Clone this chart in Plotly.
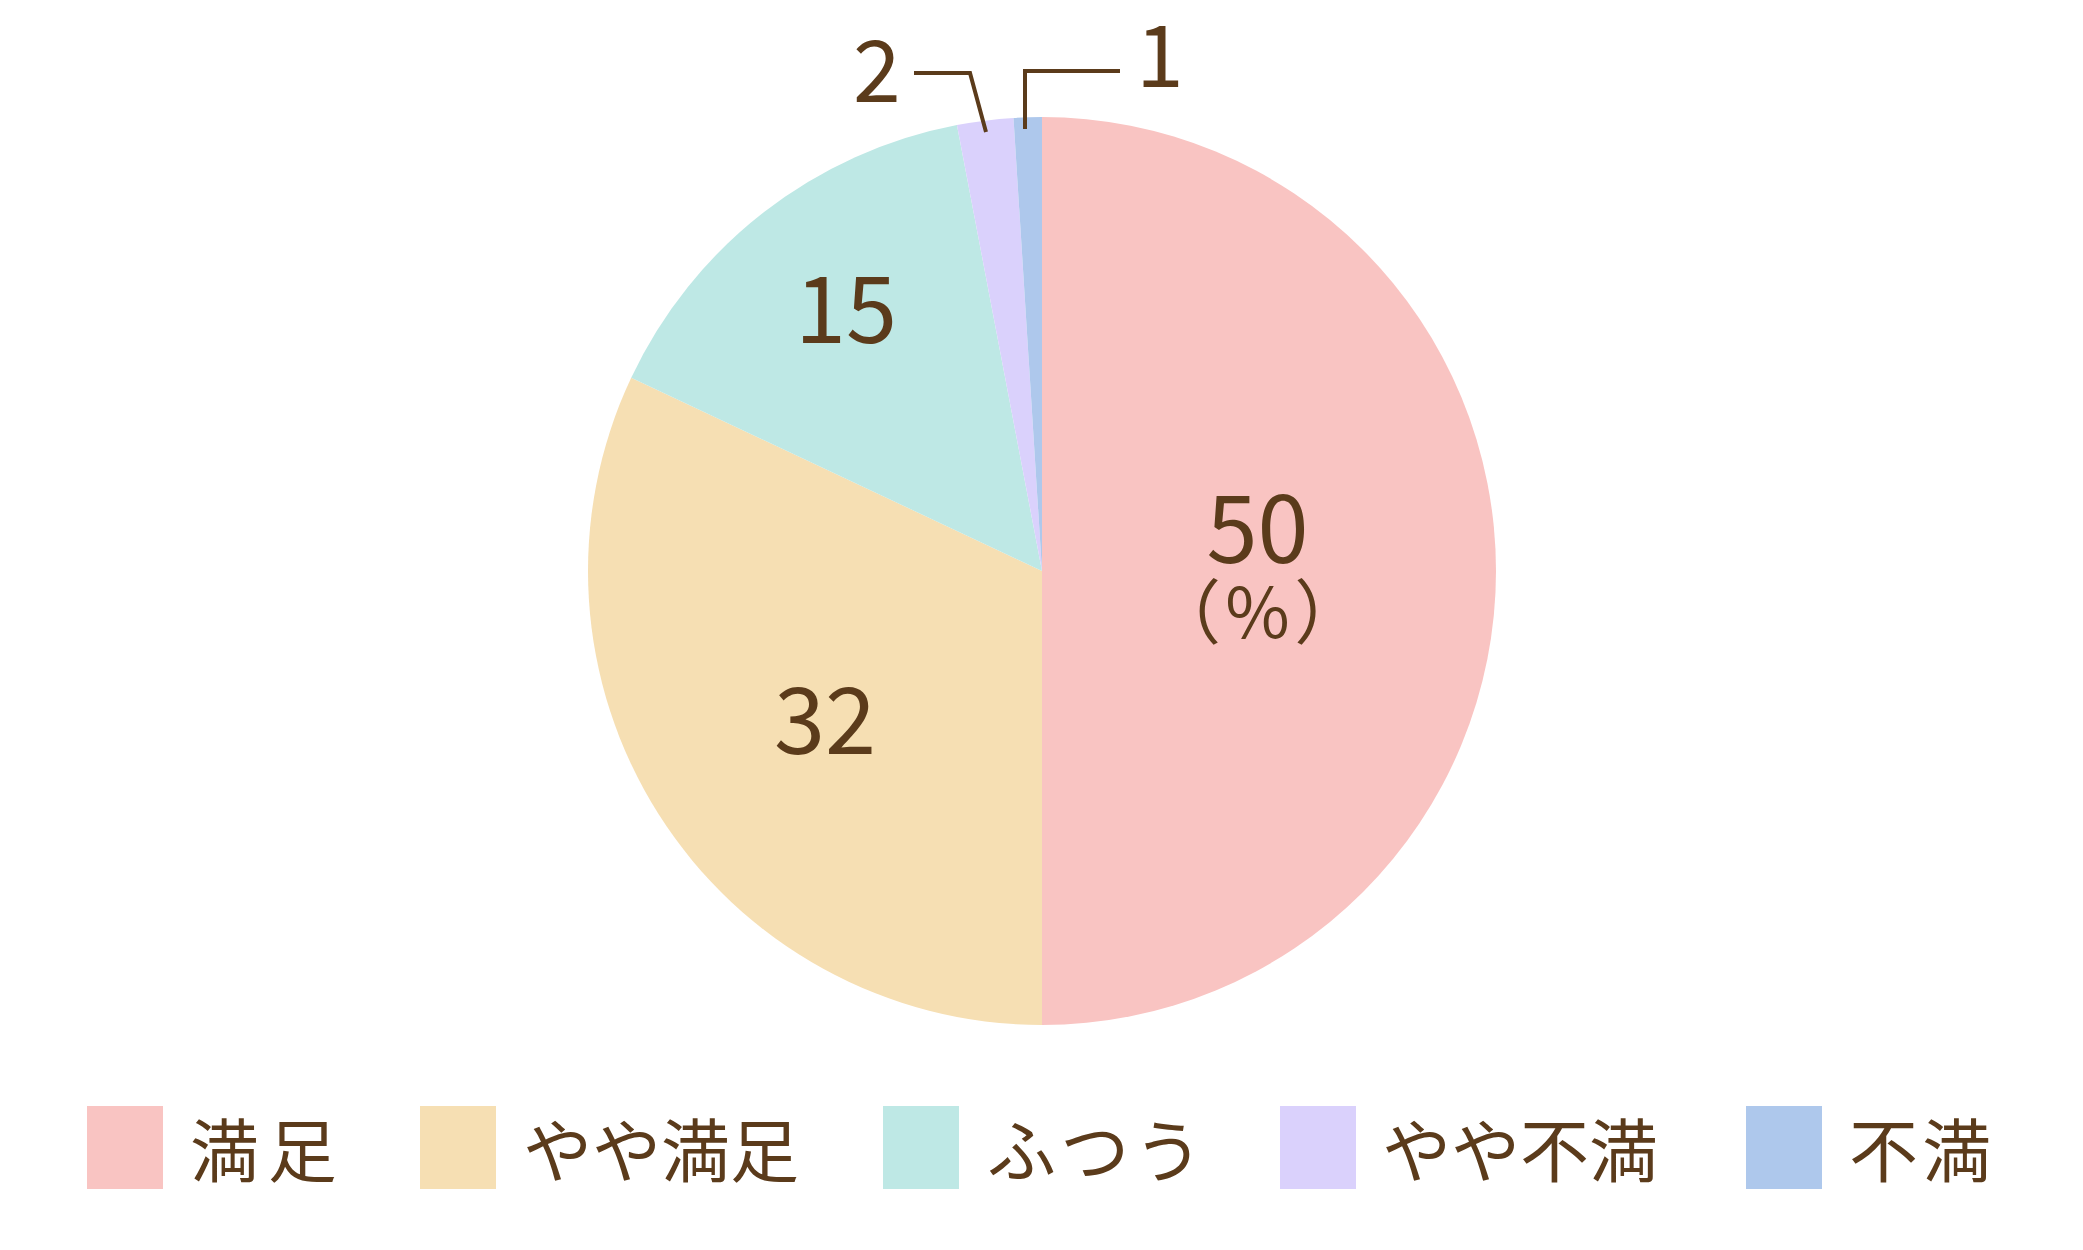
import plotly.graph_objects as go

# satisfaction survey (%)
categories = ["満足", "やや満足", "ふつう", "やや不満", "不満"]
values = [50, 32, 15, 2, 1]
colors = ["#F9C4C2", "#F6DFB3", "#BEE8E5", "#DAD1FC", "#AEC8EC"]
# legend text, with a little extra letter spacing where the original has it
legend_text = ["満\u200a\u200a足", "やや満足", "ふ\u200aつ\u200aう", "やや不満", "不\u200a満"]
unit = "（\u200a%\u200a）"

W, H = 2083, 1250
BROWN = "#5B3B1B"
FONT = "Noto Sans CJK JP"


def px(x, y):
    # pixel position -> paper coords
    return x / W, 1 - y / H


fig = go.Figure(
    go.Pie(
        labels=categories,
        values=values,
        marker=dict(colors=colors, line=dict(width=0)),
        sort=False,
        direction="clockwise",
        rotation=0,
        textinfo="none",
        hoverinfo="label+value",
        showlegend=False,
        domain=dict(x=[588 / W, 1496 / W], y=[1 - 1025 / H, 1 - 117 / H]),
    )
)


def label(text, x, y, size, xanchor="center"):
    ax, ay = px(x, y)
    fig.add_annotation(x=ax, y=ay, xref="paper", yref="paper", text=text,
                       xanchor=xanchor, yanchor="middle", showarrow=False,
                       font=dict(family=FONT, size=size, color=BROWN))


# value labels; the biggest slice carries the unit on a second line
label(f"<span style='font-size:92px'>{values[0]}</span><br>"
      f"<span style='font-size:70px'>{unit}</span>", 1257, 557, 58)
label_pos = [(825, 713), (846, 302), (877, 64), (1160, 49)]
label_size = [92, 92, 86, 86]
for v, (x, y), s in zip(values[1:], label_pos, label_size):
    label(str(v), x, y, s)

# leader lines for the small slices
leaders = [[(914, 73), (970, 73), (986, 132)], [(1120, 71), (1025, 71), (1025, 129)]]
for pts in leaders:
    path = "M " + " L ".join(f"{px(x, y)[0]},{px(x, y)[1]}" for x, y in pts)
    fig.add_shape(type="path", path=path, xref="paper", yref="paper",
                  line=dict(color=BROWN, width=4))

# legend
box_x = [87, 420, 883, 1280, 1746]
text_x = [188, 521, 985, 1380, 1847]
for txt, col, bx, tx in zip(legend_text, colors, box_x, text_x):
    x0, y0 = px(bx, 1189)
    x1, y1 = px(bx + 76, 1106)
    fig.add_shape(type="rect", xref="paper", yref="paper", x0=x0, y0=y0, x1=x1, y1=y1,
                  fillcolor=col, line=dict(width=0))
    label(txt, tx, 1147, 69, xanchor="left")

fig.update_layout(
    width=W,
    height=H,
    margin=dict(l=0, r=0, t=0, b=0),
    paper_bgcolor="white",
    plot_bgcolor="white",
)

fig.write_html("out.html", config={"displayModeBar": False},
               post_script="document.body.style.margin = '0';")
